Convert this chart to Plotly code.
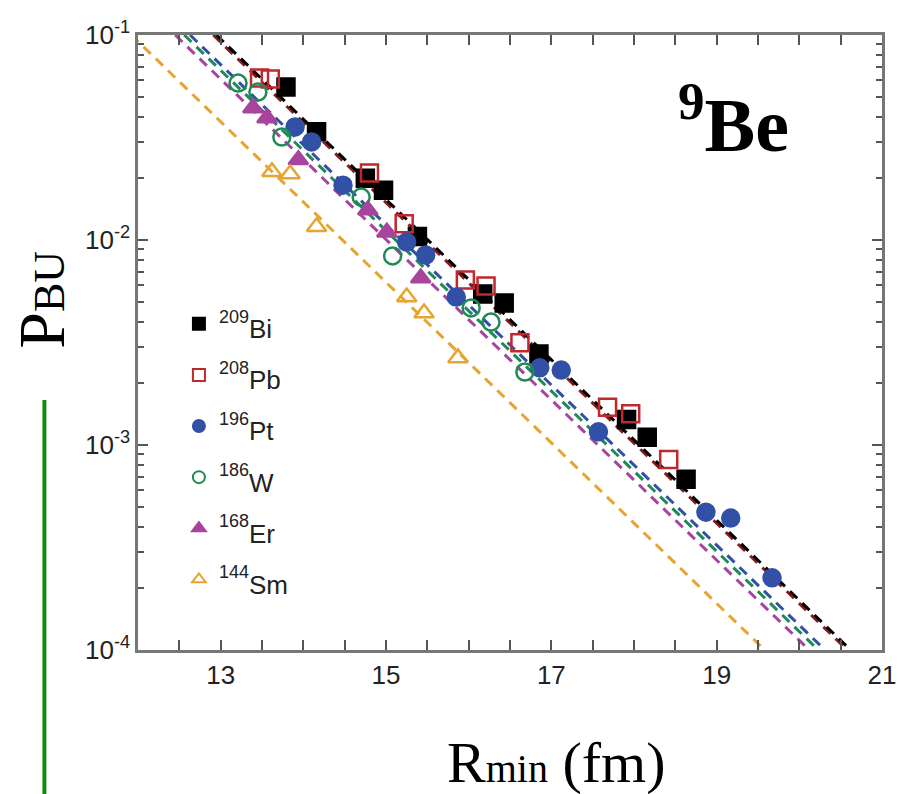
import plotly.graph_objects as go

# ---------------- data ----------------
bi_x = [13.79, 14.16, 14.75, 14.97, 15.38, 16.17, 16.43, 16.85, 17.91, 18.16, 18.63]
bi_y = [0.0557, 0.0337, 0.0200, 0.0175, 0.0104, 0.00546, 0.00493, 0.00278, 0.00133, 0.00109, 0.00068]

pb_x = [13.47, 13.60, 14.80, 15.22, 15.96, 16.21, 16.62, 17.68, 17.96, 18.42]
pb_y = [0.0617, 0.0610, 0.0212, 0.0120, 0.00638, 0.00597, 0.00315, 0.00153, 0.00142, 0.00085]

pt_x = [13.90, 14.10, 14.48, 15.25, 15.48, 15.85, 16.86, 17.12, 17.57, 18.87, 19.17, 19.67]
pt_y = [0.0356, 0.0301, 0.0185, 0.00977, 0.00845, 0.00527, 0.00238, 0.00232, 0.00116, 0.00047, 0.00044, 0.000225]

w_x = [13.21, 13.45, 13.74, 14.70, 15.08, 16.03, 16.27, 16.68]
w_y = [0.0583, 0.0527, 0.0318, 0.0162, 0.00836, 0.00466, 0.00398, 0.00227]

er_x = [13.39, 13.56, 13.94, 14.78, 15.01, 15.42]
er_y = [0.0441, 0.0394, 0.0246, 0.0140, 0.0109, 0.00653]

sm_x = [13.62, 13.84, 14.16, 15.25, 15.46, 15.87]
sm_y = [0.0215, 0.0210, 0.0116, 0.00527, 0.00440, 0.00266]

# fitted exponential lines: R_min where P_BU = 1e-1 and where P_BU = 1e-4
fit_y = [1e-1, 1e-4]
fit_bi_x = [12.95, 20.62]
fit_pb_x = [12.91, 20.58]
fit_pt_x = [12.63, 20.31]
fit_w_x = [12.56, 20.23]
fit_er_x = [12.45, 20.12]
fit_sm_x = [11.92, 19.58]

mass_numbers = ["209", "208", "196", "186", "168", "144"]
elements = ["Bi", "Pb", "Pt", "W", "Er", "Sm"]

x_tick_vals = [13, 15, 17, 19, 21]
y_tick_vals = [1e-4, 1e-3, 1e-2, 1e-1]
y_tick_text = ["10<sup>-4</sup>", "10<sup>-3</sup>", "10<sup>-2</sup>", "10<sup>-1</sup>"]

# ---------------- style ----------------
C_BI = "#000000"
C_PB = "#c0282d"
C_PT = "#3150a6"
C_W = "#1f8a55"
C_ER = "#a8449e"
C_SM = "#e6a530"

TICK_FONT = "Liberation Sans Narrow, Liberation Sans, Arial"

fig = go.Figure()

fits = [(fit_sm_x, C_SM), (fit_er_x, C_ER), (fit_w_x, C_W), (fit_pt_x, C_PT),
        (fit_pb_x, "#8b1a1a"), (fit_bi_x, C_BI)]
for fx, col in fits:
    fig.add_trace(go.Scatter(x=fx, y=fit_y, mode="lines", showlegend=False,
                             line=dict(color=col, width=3, dash="10px,7px"),
                             hoverinfo="skip"))

labels = ["<sup><span style='font-size:18px'>%s</span></sup><span style='font-size:26px'>%s</span>" % (m, e)
          for m, e in zip(mass_numbers, elements)]

series = [
    (bi_x, bi_y, labels[0], "square", C_BI),
    (pb_x, pb_y, labels[1], "square-open", C_PB),
    (pt_x, pt_y, labels[2], "circle", C_PT),
    (w_x, w_y, labels[3], "circle-open", C_W),
    (er_x, er_y, labels[4], "triangle-up", C_ER),
    (sm_x, sm_y, labels[5], "triangle-up-open", C_SM),
]
for sx, sy, name, sym, col in series:
    fig.add_trace(go.Scatter(
        x=sx, y=sy, mode="markers", name=name,
        marker=dict(symbol=sym, size=17, color=col,
                    line=dict(color=col, width=2.5)),
    ))

axis_common = dict(
    showline=True, linecolor="#777777", linewidth=2.5, mirror="ticks",
    ticks="inside", tickcolor="#555555", tickwidth=1.5, ticklen=10,
    showgrid=False, zeroline=False,
    tickfont=dict(family=TICK_FONT, size=26, color="#222222"),
)

fig.update_xaxes(range=[12, 21], tickmode="array", tickvals=x_tick_vals,
                 minor=dict(ticks="inside", dtick=0.5, ticklen=10,
                            tickcolor="#555555", tickwidth=1.5),
                 **axis_common)
fig.update_yaxes(type="log", range=[-4, -1], tickmode="array",
                 tickvals=y_tick_vals, ticktext=y_tick_text,
                 minor=dict(ticks="inside", ticklen=6, tickcolor="#555555",
                            tickwidth=1.5, dtick="D1"),
                 **axis_common)

fig.update_layout(
    width=908, height=794,
    margin=dict(l=138, r=13, t=35, b=144),
    paper_bgcolor="white", plot_bgcolor="white",
    showlegend=True,
    legend=dict(x=0.055, y=0.58, xanchor="left", yanchor="top",
                bgcolor="rgba(0,0,0,0)", borderwidth=0,
                font=dict(family="Liberation Sans, Arial", size=37, color="#222222"),
                itemsizing="constant"),
    annotations=[
        dict(text="<b><sup>9</sup>Be</b>", xref="paper", yref="paper",
             x=0.80, y=0.862, xanchor="center", yanchor="middle", showarrow=False,
             font=dict(family="Liberation Serif, Times New Roman", size=76, color="black")),
        dict(text="R<span style='font-size:40px'>min</span> (fm)", xref="paper", yref="paper",
             x=0.562, y=-0.183, xanchor="center", yanchor="middle", showarrow=False,
             font=dict(family="Liberation Serif, Times New Roman", size=58, color="black")),
        dict(text="P<span style='font-size:44px'>BU</span>", xref="paper", yref="paper",
             x=-0.13, y=0.57, xanchor="center", yanchor="middle", showarrow=False,
             textangle=-90,
             font=dict(family="Liberation Serif, Times New Roman", size=66, color="black")),
    ],
    shapes=[
        dict(type="line", xref="paper", yref="paper", x0=-0.1258, x1=-0.1258,
             y0=0.4065, y1=-0.24, line=dict(color="#138a13", width=4)),
    ],
)

fig.write_html("out.html")
